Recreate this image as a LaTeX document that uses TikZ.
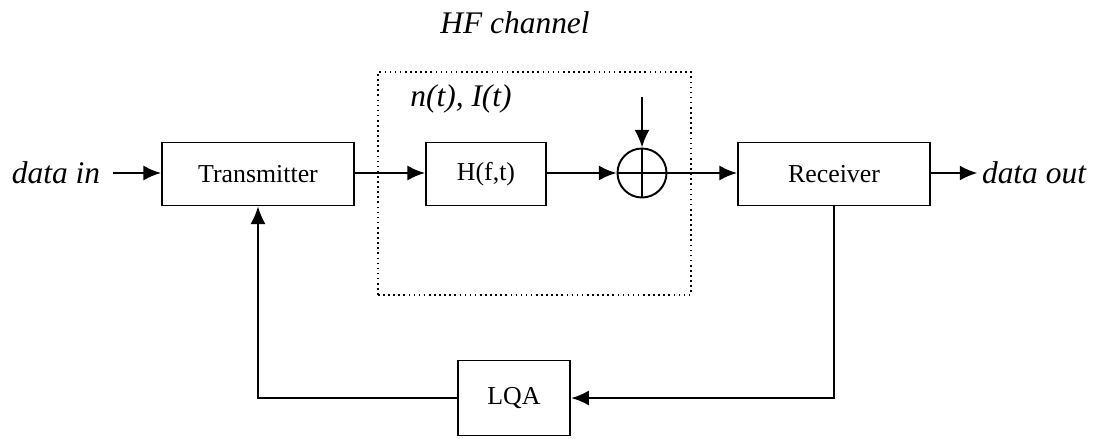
\documentclass[tikz,border=0pt]{standalone}
\usepackage{fontspec}
\setmainfont{Liberation Serif}
\usetikzlibrary{arrows.meta,positioning}

\begin{document}
\begin{tikzpicture}[
  >={Latex[length=10pt,width=8.5pt]},
  block/.style={draw,line width=1.1pt,minimum height=1.26cm,inner sep=0pt,font=\fontsize{14.7}{17}\selectfont},
  sig/.style={inner sep=0pt,font=\fontsize{17.9}{21}\selectfont\itshape},
  flow/.style={->,line width=1.2pt},
  back/.style={line width=0.9pt}
]
  \useasboundingbox (0,0) rectangle (22.06,-8.78);
  \node[sig] (datain) at (1.12,-3.46) {data in};
  \node[block,minimum width=3.84cm] (tx) at (5.16,-3.48) {Transmitter};
  \node[block,minimum width=2.4cm] (hft) at (9.72,-3.48) {H(f,t)};
  \node[draw,circle,line width=1.1pt,minimum size=0.98cm,inner sep=0pt] (sum) at (12.84,-3.46) {};
  \node[block,minimum width=3.84cm] (rx) at (16.68,-3.48) {Receiver};
  \node[sig] (dataout) at (20.68,-3.46) {data out};
  \node[block,minimum width=2.25cm,minimum height=1.5cm] (lqa) at (10.28,-7.96) {LQA};
  \node[draw,dotted,line width=0.9pt,minimum width=6.26cm,minimum height=4.46cm,inner sep=0pt] (chan) at (10.69,-3.67) {};
  \node[sig] (title) at (10.3,-0.46) {HF channel};
  \node[sig] (noise) at (9.22,-1.98) {n(t), I(t)};
  \coordinate (nin) at (12.84,-1.94);
  \draw[line width=1.1pt] (sum.north) -- (sum.south) (sum.west) -- (sum.east);
  \draw[flow] (datain.east) ++(0.26,0) -- (tx.west |- datain.east);
  \draw[flow] (tx.east |- sum) -- (hft.west |- sum);
  \draw[flow] (hft.east |- sum) -- (sum.west);
  \draw[flow] (nin) -- (sum.north);
  \draw[flow] (sum.east) -- (rx.west |- sum);
  \draw[flow] (rx.east |- sum) -- ++(0.93,0);
  \draw[back,line width=1.2pt,->] (rx.south) |- (lqa.east);
  \draw[back,->] (lqa.west) -| (tx.south);
\end{tikzpicture}
\end{document}
